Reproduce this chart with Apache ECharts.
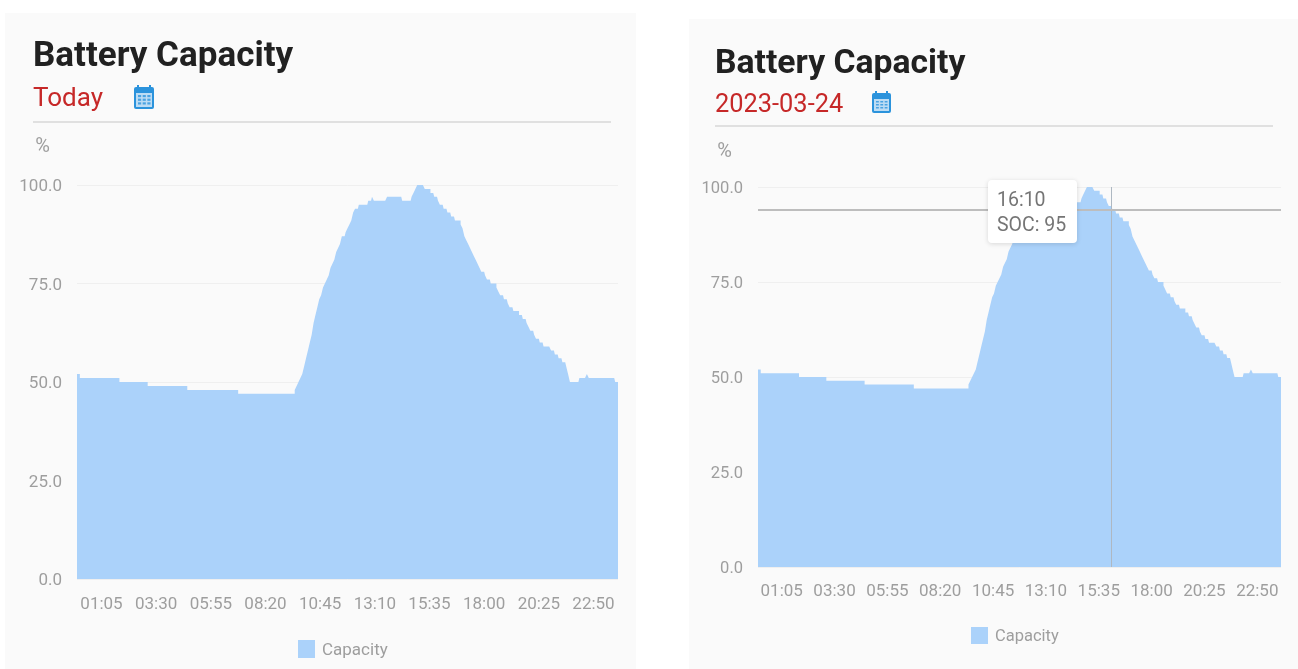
<!DOCTYPE html>
<html><head><meta charset="utf-8">
<style>html,body{margin:0;padding:0;background:#fff}#c{width:1298px;height:669px}</style>
<script src="https://cdn.jsdelivr.net/npm/echarts@6/dist/echarts.min.js"></script>
</head><body><div id="c"></div>
<script>
const times = [];
for (let m = 0; m < 1440; m += 5) {
  times.push(String(Math.floor(m / 60)).padStart(2, '0') + ':' + String(m % 60).padStart(2, '0'));
}
const tickLabels = ['01:05','03:30','05:55','08:20','10:45','13:10','15:35','18:00','20:25','22:50'];
const yTicks = [0, 25, 50, 75, 100];
const soc = [
52,52,51,51,51,51,51,51,51,51,
51,51,51,51,51,51,51,51,51,51,
51,51,51,50,50,50,50,50,50,50,
50,50,50,50,50,50,50,50,49,49,
49,49,49,49,49,49,49,49,49,49,
49,49,49,49,49,49,49,49,49,48,
48,48,48,48,48,48,48,48,48,48,
48,48,48,48,48,48,48,48,48,48,
48,48,48,48,48,48,47,47,47,47,
47,47,47,47,47,47,47,47,47,47,
47,47,47,47,47,47,47,47,47,47,
47,47,47,47,47,47,48,49,50,51,
52,54,56,58,60,62,65,67,69,71,
72,74,75,76,77,79,80,81,83,84,
85,87,87,88,89,90,91,93,94,94,
95,95,95,95,95,96,96,97,96,96,
96,96,96,96,96,97,97,97,97,97,
97,97,97,96,96,96,96,96,97,98,
99,100,100,100,100,99,99,99,98,98,
97,97,96,95,95,94,94,93,93,92,
92,91,91,91,90,89,87,86,85,84,
83,82,81,80,79,78,78,77,76,76,
75,75,75,74,73,72,72,71,71,70,
69,69,68,68,68,67,67,66,66,65,
64,63,63,62,61,61,60,60,59,59,
59,59,58,58,57,57,56,56,55,55,
54,52,50,50,50,50,50,51,51,51,
51,52,51,51,51,51,51,51,51,51,
51,51,51,51,51,51,50,50
];
const seriesName = 'Capacity';
const titleText = 'Battery Capacity';
const subLeft = 'Today';
const subRight = '2023-03-24';
const tipTime = '16:10';
const tipSoc = 95;
const crossY = 94;

const AREA = '#abd2fa', GREY = '#9e9e9e', RED = '#c62828', FONT = 'Roboto';

function calendar(x, y, w, h) {
  const kids = [
    {type:'rect', shape:{x:x, y:y+2, width:w, height:h-2, r:2}, style:{fill:'#2b93dc'}},
    {type:'rect', shape:{x:x+3, y:y, width:2, height:4}, style:{fill:'#2b93dc'}},
    {type:'rect', shape:{x:x+w-5, y:y, width:2, height:4}, style:{fill:'#2b93dc'}},
    {type:'rect', shape:{x:x+2, y:y+8, width:w-4, height:h-10}, style:{fill:'#bcdcf4'}}
  ];
  for (let r = 0; r < 3; r++) for (let c = 0; c < 3; c++) {
    kids.push({type:'rect', shape:{x:x+4+c*(w-6)/3, y:y+10+r*(h-13)/3, width:(w-6)/3-1.5, height:(h-13)/3-1.5}, style:{fill:'#4aa3e2'}});
  }
  return {type:'group', silent:true, children:kids};
}

function axisX(i) {
  return {
    type:'category', gridIndex:i, data:times, boundaryGap:false,
    axisLine:{show:false}, axisTick:{show:false},
    axisLabel:{
      color:GREY, fontFamily:FONT, fontSize:17, margin:[17,16][i], hideOverlap:false,
      interval:(idx, name) => tickLabels.includes(name)
    },
    splitLine:{show:false}
  };
}
function axisY(i) {
  const size = [17,16.5][i];
  return {
    type:'value', gridIndex:i, min:yTicks[0], max:yTicks[4], interval:25,
    name:'%', nameLocation:'end', nameGap:[28,25][i],
    nameTextStyle:{color:GREY, fontFamily:FONT, fontSize:20, align:'right', padding:[0,[27,26][i],0,0]},
    axisLine:{show:false}, axisTick:{show:false},
    axisLabel:{color:GREY, fontFamily:FONT, fontSize:size, margin:15,
      formatter:v => '{v|' + v.toFixed(1) + '}',
      rich:{v:{color:GREY, fontFamily:FONT, fontSize:size, padding:[4,0,0,0]}}},
    splitLine:{lineStyle:{color:'#efefef', width:1}}
  };
}
function series(i, extra) {
  return Object.assign({
    name:seriesName, type:'line', xAxisIndex:i, yAxisIndex:i, data:soc,
    step:'middle', showSymbol:false, symbol:'none', animation:false, silent:true,
    lineStyle:{width:0, color:AREA}, itemStyle:{color:AREA},
    areaStyle:{color:AREA, opacity:1}
  }, extra || {});
}
function legendText(size, drop) {
  return {color:GREY, fontFamily:FONT, fontSize:size,
    rich:{n:{color:GREY, fontFamily:FONT, fontSize:size, padding:[drop,0,0,2]}}};
}

const chart = echarts.init(document.getElementById('c'), null, {renderer:'canvas'});
chart.setOption({
  animation:false,
  backgroundColor:'#ffffff',
  tooltip:{show:false},
  title:[
    {text:titleText, left:33, top:40, padding:0, textStyle:{fontFamily:FONT, fontWeight:'bold', fontSize:35, color:'#212121'}},
    {text:subLeft, left:33, top:86, padding:0, textStyle:{fontFamily:FONT, fontWeight:'normal', fontSize:26, color:RED}},
    {text:titleText, left:715, top:48, padding:0, textStyle:{fontFamily:FONT, fontWeight:'bold', fontSize:33.7, color:'#212121'}},
    {text:subRight, left:715, top:93, padding:0, textStyle:{fontFamily:FONT, fontWeight:'normal', fontSize:25.4, color:RED}}
  ],
  grid:[
    {left:77, width:541, top:185, height:394},
    {left:758, width:523, top:187, height:380}
  ],
  xAxis:[axisX(0), axisX(1)],
  yAxis:[axisY(0), axisY(1)],
  legend:[
    {left:298, top:640, padding:0, icon:'rect', itemWidth:17, itemHeight:18, data:[seriesName], selectedMode:false,
     formatter:n => '{n|' + n + '}', textStyle:legendText(17, 4)},
    {left:971, top:627, padding:0, icon:'rect', itemWidth:17, itemHeight:17, data:[seriesName], selectedMode:false,
     formatter:n => '{n|' + n + '}', textStyle:legendText(16.5, 2)}
  ],
  series:[
    series(0),
    series(1, {
      markLine:{
        silent:true, symbol:'none', animation:false, label:{show:false},
        data:[
          {xAxis:tipTime, lineStyle:{color:'#aeb8c2', width:1, type:'solid'}},
          {yAxis:crossY, lineStyle:{color:'#bdbdbd', width:2, type:'solid'}}
        ]
      }
    })
  ],
  graphic:[
    {type:'rect', z:-10, silent:true, shape:{x:5, y:13, width:631, height:656}, style:{fill:'#fafafa'}},
    {type:'rect', z:-10, silent:true, shape:{x:689, y:19, width:609, height:650}, style:{fill:'#fafafa'}},
    {type:'line', silent:true, shape:{x1:33, y1:122, x2:611, y2:122}, style:{stroke:'#e0e0e0', lineWidth:2}},
    {type:'line', silent:true, shape:{x1:715, y1:126, x2:1273, y2:126}, style:{stroke:'#e0e0e0', lineWidth:2}},
    calendar(134, 85, 20, 24),
    calendar(872, 91, 19, 22),
    {type:'rect', z:100, silent:true, shape:{x:988, y:180, width:89, height:63, r:4},
     style:{fill:'#ffffff', shadowBlur:5, shadowColor:'rgba(0,0,0,0.14)', shadowOffsetY:1}},
    {type:'text', z:101, silent:true, x:997, y:201,
     style:{text:tipTime, fill:'#757575', font:'19.5px Roboto', verticalAlign:'middle'}},
    {type:'text', z:101, silent:true, x:997, y:226,
     style:{text:'SOC: ' + tipSoc, fill:'#757575', font:'19.5px Roboto', verticalAlign:'middle'}}
  ]
});
</script></body></html>
